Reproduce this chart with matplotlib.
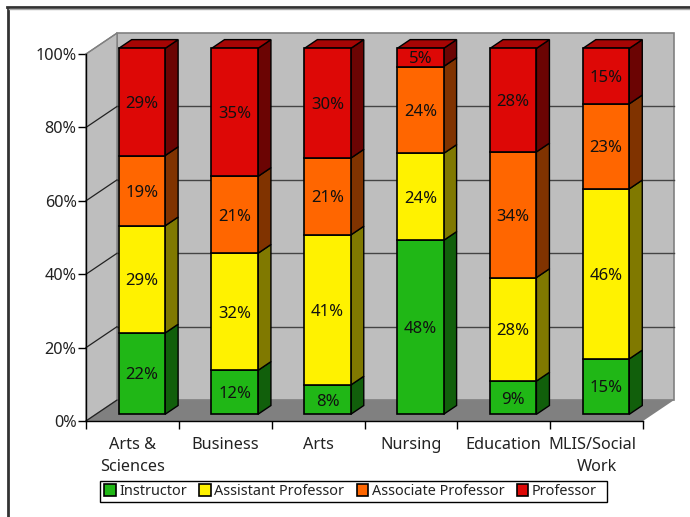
import matplotlib
matplotlib.use("Agg")
import matplotlib.pyplot as plt
from matplotlib.patches import Patch, Polygon, Rectangle

plt.rcParams["font.family"] = ["Noto Sans", "DejaVu Sans"]

categories = ["Arts &\nSciences", "Business", "Arts", "Nursing", "Education", "MLIS/Social\nWork"]
series = ["Instructor", "Assistant Professor", "Associate Professor", "Professor"]
instructor = [22, 12, 8, 48, 9, 15]
assistant = [29, 32, 41, 24, 28, 46]
associate = [19, 21, 21, 24, 34, 23]
professor = [29, 35, 30, 5, 28, 15]
yticks = [0, 20, 40, 60, 80, 100]

front_cols = ["#20B716", "#FFF200", "#FF6600", "#DD0806"]
side_cols = ["#115F0B", "#807900", "#803300", "#6B0403"]
top_col = "#A60504"

# depth of the fake 3d box, in data units
DX = 0.334
DY = 5.7
BAR_W = 0.5
BAR_D0 = 0.32
BAR_D1 = 0.74
BAR_TOP = 99.7  # front face is a touch shorter than the axis


def sk(x, y, d):
    return (x + d * DX, y + d * DY)


fig = plt.figure(figsize=(6.9, 5.17), dpi=100)
fig.patch.set_facecolor("white")

# outer frame
fig.add_artist(plt.Line2D([7.5 / 690, 7.5 / 690], [0, 1 - 7.5 / 517], color="#333333", lw=2))
fig.add_artist(plt.Line2D([7 / 690, 1], [1 - 7 / 517, 1 - 7 / 517], color="#333333", lw=2))
fig.add_artist(plt.Line2D([9 / 690, 1], [1 - 9 / 517, 1 - 9 / 517], color="#AAAAAA", lw=1))

ax = fig.add_axes([86 / 690, 1 - 421 / 517, 557 / 690, 367 / 517])
ax.set_xlim(0, 6)
ax.set_ylim(0, 100)
ax.patch.set_visible(False)
for s in ["top", "right"]:
    ax.spines[s].set_visible(False)
ax.spines["left"].set_linewidth(1)
ax.spines["bottom"].set_linewidth(1)

# walls and floor
ax.add_patch(Polygon([sk(0, 0, 1), sk(6, 0, 1), sk(6, 100, 1), sk(0, 100, 1)],
                     fc="#BEBEBE", ec="#808080", lw=1.2, clip_on=False, zorder=1))
ax.add_patch(Polygon([sk(0, 0, 0), sk(0, 0, 1), sk(0, 100, 1), sk(0, 100, 0)],
                     fc="#BEBEBE", ec="#808080", lw=1, clip_on=False, zorder=1))
ax.add_patch(Polygon([sk(0, 0, 0), sk(6, 0, 0), sk(6, 0, 1), sk(0, 0, 1)],
                     fc="#808080", ec="none", clip_on=False, zorder=1.5))

# grid
for t in yticks:
    x0, y0 = sk(0, t, 0)
    x1, y1 = sk(0, t, 1)
    x2, y2 = sk(6, t, 1)
    c = "#222222" if t < 100 else "#808080"
    ax.plot([x0, x1], [y0, y1], color=c, lw=0.9, clip_on=False, zorder=2)
    if 0 < t < 100:
        ax.plot([x1, x2], [y1, y2], color="#444444", lw=1, clip_on=False, zorder=2)

# stacked boxes
data = [instructor, assistant, associate, professor]
for i in range(len(categories)):
    total = sum(d[i] for d in data)
    bottom = 0
    xl = i + 0.495 - BAR_W / 2
    xr = xl + BAR_W
    for j, vals in enumerate(data):
        h = vals[i] / total * BAR_TOP
        top = bottom + h
        # side face
        ax.add_patch(Polygon([sk(xr, bottom, BAR_D0), sk(xr, bottom, BAR_D1),
                              sk(xr, top, BAR_D1), sk(xr, top, BAR_D0)],
                             fc=side_cols[j], ec="black", lw=1, clip_on=False, zorder=3))
        # front face
        fx, fy = sk(xl, bottom, BAR_D0)
        ax.add_patch(Rectangle((fx, fy), BAR_W, h, fc=front_cols[j], ec="black", lw=1.2,
                               clip_on=False, zorder=4))
        ax.text(fx + BAR_W / 2, fy + h / 2 - 0.5, f"{vals[i]}%", ha="center", va="center",
                fontsize=12, color="#111111", zorder=5)
        bottom = top
    ax.add_patch(Polygon([sk(xl, BAR_TOP, BAR_D0), sk(xr, BAR_TOP, BAR_D0),
                          sk(xr, BAR_TOP, BAR_D1), sk(xl, BAR_TOP, BAR_D1)],
                         fc=top_col, ec="black", lw=1, clip_on=False, zorder=3))

ax.set_yticks(yticks)
ax.set_yticklabels([f"{t}%" for t in yticks], fontsize=11.7, color="#222222")
ax.set_xticks(range(7))
ax.set_xticklabels([])
ax.tick_params(axis="both", length=5.8, width=1, pad=1)

# category labels one line at a time, the long MLIS line sits left of centre
for i, c in enumerate(categories):
    for k, line in enumerate(c.split("\n")):
        xpos = i + 0.5
        if line.startswith("MLIS"):
            xpos -= 0.04
        ax.text(xpos, -6.5 - k * 6.0, line, ha="center", va="center", fontsize=11.7,
                color="#222222", clip_on=False)

# legend box is drawn by hand, the legend padding is symmetric and the box is not
fig.add_artist(Rectangle((100 / 690, 1 - 502 / 517), 507 / 690, 21 / 517, fc="white", ec="black",
                         lw=1, transform=fig.transFigure))
handles = [Patch(fc=front_cols[j], ec="black", lw=1.2) for j in range(4)]
leg = fig.legend(handles, series, ncol=4, loc="center left", bbox_to_anchor=(104 / 690, 1 - 491.5 / 517),
                 fontsize=10.4, frameon=False, borderaxespad=0, borderpad=0,
                 handlelength=0.8, handleheight=0.85, handletextpad=0.25, columnspacing=0.85,
                 labelcolor="#222222")

fig.savefig("out.png", dpi=100)
